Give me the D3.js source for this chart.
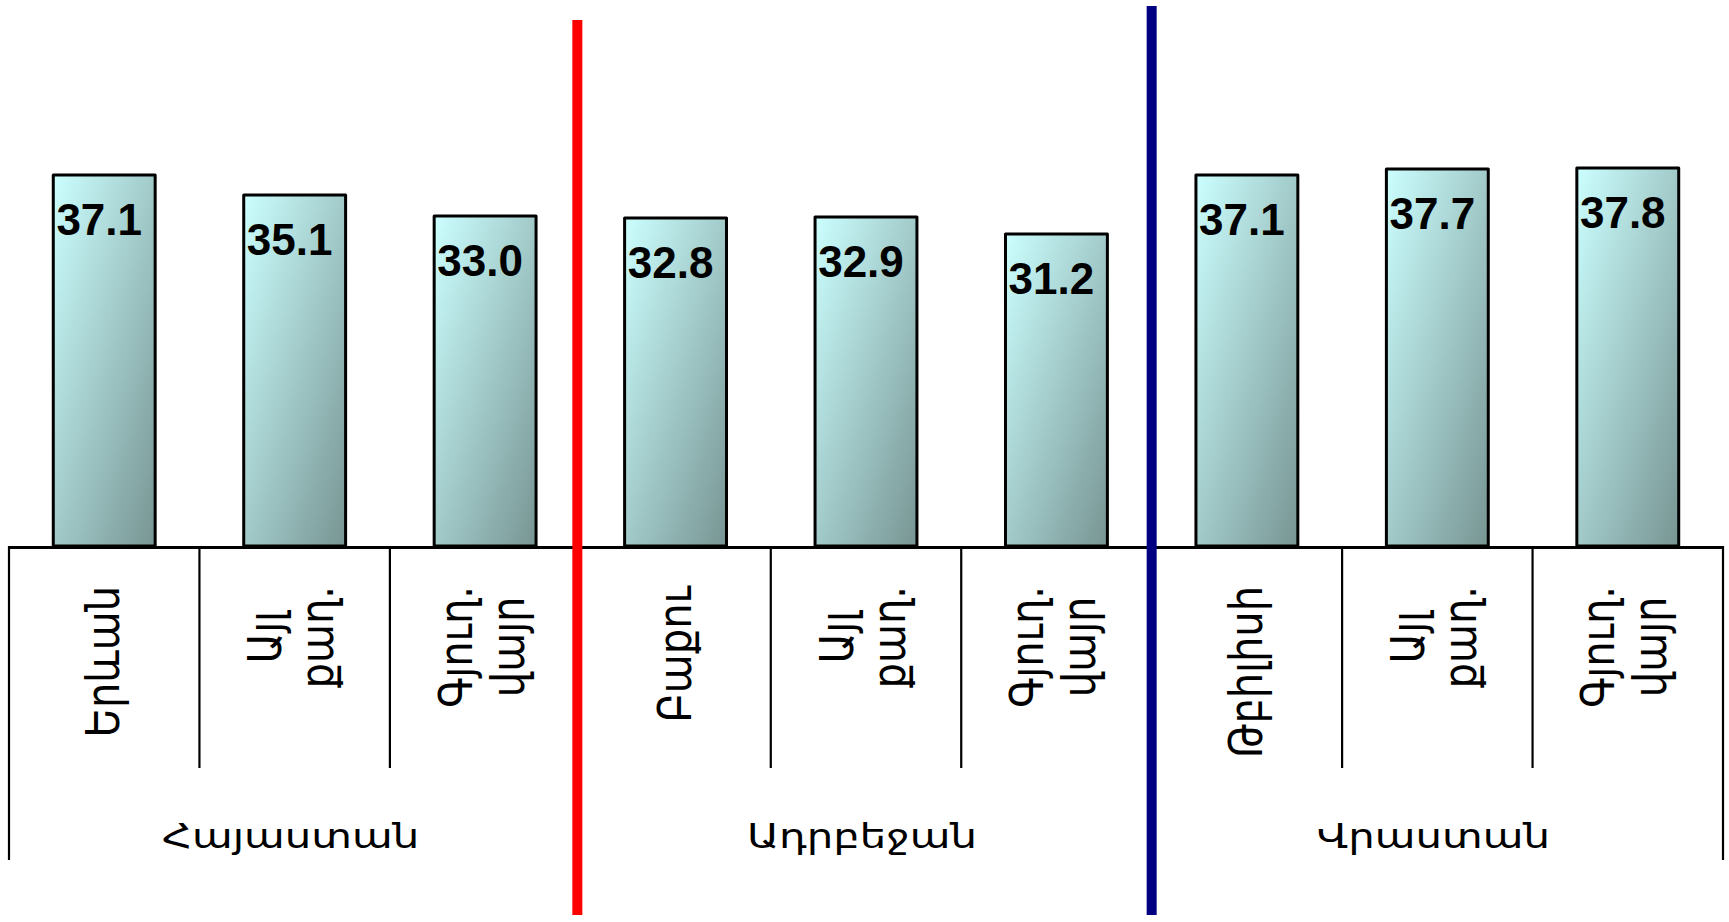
<!DOCTYPE html>
<html>
<head>
<meta charset="utf-8">
<script src="https://cdn.jsdelivr.net/npm/d3@7"></script>
<style>
  html, body { margin: 0; padding: 0; background: #fff; }
  svg { display: block; }
</style>
</head>
<body>
<svg id="chart" width="1729" height="922"></svg>
<script>
// ---- data ----
const groups = ["Հայաստան", "Ադրբեջան", "Վրաստան"];
const categories = ["Երևան", "Այլ քաղ.", "Գյուղ. վայր",
                    "Բաքու", "Այլ քաղ.", "Գյուղ. վայր",
                    "Թբիլիսի", "Այլ քաղ.", "Գյուղ. վայր"];
const categoryGroup = [0, 0, 0, 1, 1, 1, 2, 2, 2];
const values = [37.1, 35.1, 33.0, 32.8, 32.9, 31.2, 37.1, 37.7, 37.8];
const separatorColors = ["#FF0000", "#000080"];

// ---- layout ----
const W = 1729, H = 922;
const left = 9, right = 1723;
const baseY = 546;

const svg = d3.select("#chart");

const idx = categories.map((_, i) => i);
const x = d3.scaleBand().domain(idx).range([left, right])
  .paddingInner(0.465).paddingOuter(0.2325);
const y = d3.scaleLinear().domain([0, 40]).range([baseY, 146]);

const step = x.step();
const slotStart = i => left + i * step;

// gradient
const defs = svg.append("defs");
const grad = defs.append("linearGradient").attr("id", "barGrad")
  .attr("x1", 0).attr("y1", 0).attr("x2", 1).attr("y2", 1);
grad.append("stop").attr("offset", "0%").attr("stop-color", "#CCFFFF");
grad.append("stop").attr("offset", "100%").attr("stop-color", "#779593");

// bars
svg.append("g").selectAll("rect").data(values).join("rect")
  .attr("x", (d, i) => x(i))
  .attr("y", d => y(d))
  .attr("width", x.bandwidth())
  .attr("height", d => baseY - y(d))
  .attr("fill", "url(#barGrad)")
  .attr("stroke", "#000")
  .attr("stroke-width", 3)
  .attr("stroke-linejoin", "round");

// value labels
svg.append("g").selectAll("text").data(values).join("text")
  .attr("x", (d, i) => x(i) + x.bandwidth() / 2 - 5)
  .attr("y", d => y(d) + 60)
  .attr("text-anchor", "middle")
  .attr("font-family", "'Liberation Sans', Arial, sans-serif")
  .attr("font-weight", "bold")
  .attr("font-size", 44)
  .attr("fill", "#000")
  .text(d => d.toFixed(1));

// axis line
const axisG = svg.append("g");
axisG.append("line")
  .attr("x1", left).attr("x2", right)
  .attr("y1", baseY + 1.5).attr("y2", baseY + 1.5)
  .attr("stroke", "#000").attr("stroke-width", 3);

// tick lines at slot boundaries
const boundaries = d3.range(categories.length + 1);
axisG.selectAll("line.tick").data(boundaries).join("line")
  .attr("class", "tick")
  .attr("x1", b => slotStart(b)).attr("x2", b => slotStart(b))
  .attr("y1", baseY).attr("y2", b => (b % 3 === 0) ? 860 : 768)
  .attr("stroke", "#000").attr("stroke-width", 2.2);

// category labels (rotated)
const labelTop = 586;
const lineGap = 52;
const catFont = 40;
const catStretch = 1.15;
categories.forEach((c, i) => {
  const lines = c.split(" ");
  const cx = slotStart(i) + step / 2 + (lines.length > 1 ? -3.5 : -1);
  const g = svg.append("g");
  const texts = lines.map((ln, j) => g.append("text")
    .attr("font-family", "'DejaVu Sans', sans-serif")
    .attr("font-size", catFont)
    .attr("fill", "#000")
    .attr("text-anchor", "middle")
    .attr("dominant-baseline", "central")
    .text(ln));
  const maxLen = d3.max(texts, t => t.node().getComputedTextLength());
  const cy = labelTop + maxLen / 2;
  texts.forEach((t, j) => {
    const off = (j - (lines.length - 1) / 2) * lineGap;
    t.attr("transform", `translate(${cx + off},${cy}) scale(${catStretch},1) rotate(-90)`);
  });
});

// group labels
const grpStretch = 1.23;
svg.append("g").selectAll("text").data(groups).join("text")
  .attr("transform", (d, gi) =>
    `translate(${(slotStart(gi * 3) + slotStart(gi * 3 + 3)) / 2 - 4},848) scale(${grpStretch},1)`)
  .attr("text-anchor", "middle")
  .attr("font-family", "'DejaVu Sans', sans-serif")
  .attr("font-size", 34)
  .attr("fill", "#000")
  .text(d => d);

// group separator lines
svg.append("g").selectAll("line").data(separatorColors).join("line")
  .attr("x1", (d, k) => slotStart((k + 1) * 3) - (k === 0 ? 3 : 0))
  .attr("x2", (d, k) => slotStart((k + 1) * 3) - (k === 0 ? 3 : 0))
  .attr("y1", (d, k) => k === 0 ? 20 : 6)
  .attr("y2", 915)
  .attr("stroke", d => d)
  .attr("stroke-width", 10);
</script>
</body>
</html>
